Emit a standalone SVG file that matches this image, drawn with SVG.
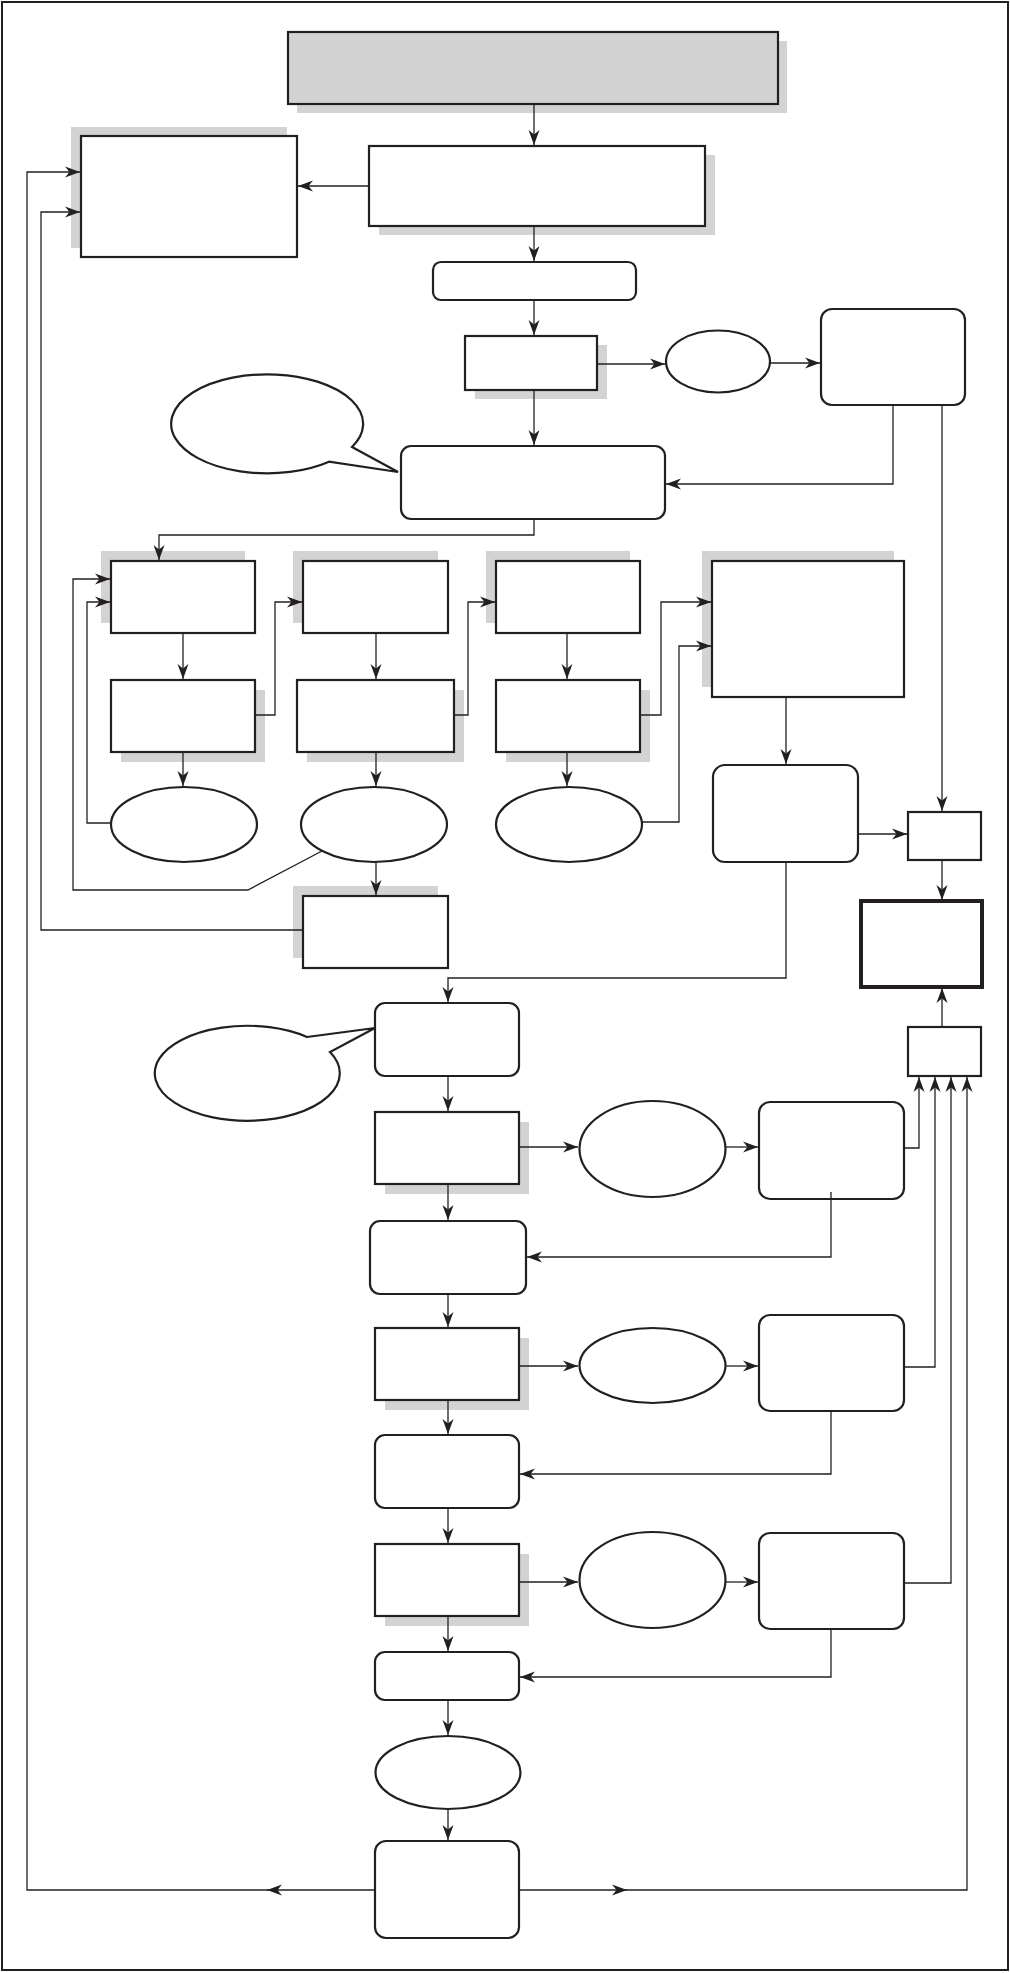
<svg xmlns="http://www.w3.org/2000/svg" width="1010" height="1973" viewBox="0 0 1010 1973">
<style>
.bg{fill:#ffffff}
.frame{fill:none;stroke:#231f20;stroke-width:2}
.box{fill:#ffffff;stroke:#231f20;stroke-width:2.2}
.gray{fill:#d3d3d3;stroke:#231f20;stroke-width:2.2}
.bold{fill:#ffffff;stroke:#231f20;stroke-width:4}
.sh{fill:#d3d3d3;stroke:none}
.a{fill:none;stroke:#231f20;stroke-width:1.3;marker-end:url(#ah)}
</style>
<defs>
<marker id="ah" markerUnits="userSpaceOnUse" markerWidth="16" markerHeight="12" refX="15" refY="6" orient="auto" viewBox="0 0 16 12">
<path d="M0,0.5 L15,6 L0,11.5 L4.5,6 Z" fill="#231f20"/>
</marker>
</defs>
<rect class="bg" x="0" y="0" width="1010" height="1973"/>
<rect class="frame" x="2" y="2" width="1006" height="1968"/>

<g id="n-top"><rect class="sh" x="297" y="41" width="490" height="72"/><rect class="gray" x="288" y="32" width="490" height="72"/></g>
<g id="n-box2"><rect class="sh" x="379" y="155" width="336" height="80"/><rect class="box" x="369" y="146" width="336" height="80"/></g>
<g id="n-boxL"><rect class="sh" x="71" y="127" width="216" height="121"/><rect class="box" x="81" y="136" width="216" height="121"/></g>
<g id="n-box3"><rect class="box" x="433" y="262" width="203" height="38" rx="8"/></g>
<g id="n-box4"><rect class="sh" x="475" y="345" width="132" height="54"/><rect class="box" x="465" y="336" width="132" height="54"/></g>
<g id="n-e0"><ellipse class="box" cx="718" cy="361.5" rx="52" ry="31"/></g>
<g id="n-box5"><rect class="box" x="821" y="309" width="144" height="96" rx="11"/></g>
<g id="n-bubble1"><path class="box" d="M352,447 L398,472 L329,461.7 A96,49.5 0 1 1 352,447 Z"/></g>
<g id="n-box6"><rect class="box" x="401" y="446" width="264" height="73" rx="10"/></g>

<g id="n-a1"><rect class="sh" x="101" y="551" width="144" height="72"/><rect class="box" x="111" y="561" width="144" height="72"/></g>
<g id="n-b1"><rect class="sh" x="293" y="551" width="145" height="72"/><rect class="box" x="303" y="561" width="145" height="72"/></g>
<g id="n-c1"><rect class="sh" x="486" y="551" width="144" height="72"/><rect class="box" x="496" y="561" width="144" height="72"/></g>
<g id="n-d1"><rect class="sh" x="702" y="551" width="192" height="136"/><rect class="box" x="712" y="561" width="192" height="136"/></g>
<g id="n-a2"><rect class="sh" x="121" y="690" width="144" height="72"/><rect class="box" x="111" y="680" width="144" height="72"/></g>
<g id="n-b2"><rect class="sh" x="307" y="690" width="157" height="72"/><rect class="box" x="297" y="680" width="157" height="72"/></g>
<g id="n-c2"><rect class="sh" x="506" y="690" width="144" height="72"/><rect class="box" x="496" y="680" width="144" height="72"/></g>
<g id="n-ea"><ellipse class="box" cx="184" cy="824.5" rx="73" ry="37.5"/></g>
<g id="n-eb"><ellipse class="box" cx="374" cy="824.5" rx="73" ry="37.5"/></g>
<g id="n-ec"><ellipse class="box" cx="569" cy="824.5" rx="73" ry="37.5"/></g>
<g id="n-r"><rect class="box" x="713" y="765" width="145" height="97" rx="12"/></g>
<g id="n-s1"><rect class="box" x="908" y="812" width="73" height="48"/></g>
<g id="n-t"><rect class="bold" x="861" y="901" width="121" height="86"/></g>
<g id="n-b3"><rect class="sh" x="293" y="886" width="145" height="72"/><rect class="box" x="303" y="896" width="145" height="72"/></g>

<g id="n-bubble2"><path class="box" d="M307,1037 L375,1028 L330,1052 A92.5,47.5 0 1 1 307,1037 Z"/></g>
<g id="n-f1"><rect class="box" x="375" y="1003" width="144" height="73" rx="10"/></g>
<g id="n-s2"><rect class="box" x="908" y="1027" width="73" height="49"/></g>
<g id="n-g1"><rect class="sh" x="385" y="1122" width="144" height="72"/><rect class="box" x="375" y="1112" width="144" height="72"/></g>
<g id="n-h1"><ellipse class="box" cx="652.5" cy="1149" rx="73" ry="48"/></g>
<g id="n-i1"><rect class="box" x="759" y="1102" width="145" height="97" rx="11"/></g>
<g id="n-j1"><rect class="box" x="370" y="1221" width="156" height="73" rx="10"/></g>
<g id="n-g2"><rect class="sh" x="385" y="1338" width="144" height="72"/><rect class="box" x="375" y="1328" width="144" height="72"/></g>
<g id="n-h2"><ellipse class="box" cx="652.5" cy="1365.5" rx="73" ry="37.5"/></g>
<g id="n-i2"><rect class="box" x="759" y="1315" width="145" height="96" rx="11"/></g>
<g id="n-j2"><rect class="box" x="375" y="1435" width="144" height="73" rx="10"/></g>
<g id="n-g3"><rect class="sh" x="385" y="1554" width="144" height="72"/><rect class="box" x="375" y="1544" width="144" height="72"/></g>
<g id="n-h3"><ellipse class="box" cx="652.5" cy="1580" rx="73" ry="48"/></g>
<g id="n-i3"><rect class="box" x="759" y="1533" width="145" height="96" rx="11"/></g>
<g id="n-j3"><rect class="box" x="375" y="1652" width="144" height="48" rx="10"/></g>
<g id="n-k"><ellipse class="box" cx="448" cy="1772.5" rx="72.5" ry="36.5"/></g>
<g id="n-l"><rect class="box" x="375" y="1841" width="144" height="97" rx="11"/></g>

<g id="connectors">
<path class="a" d="M534,104 V145"/>
<path class="a" d="M369,186 H298"/>
<path class="a" d="M534,226 V261"/>
<path class="a" d="M534,300 V335"/>
<path class="a" d="M597,364 H665"/>
<path class="a" d="M770,363 H820"/>
<path class="a" d="M893,405 V484 H666"/>
<path class="a" d="M942,405 V811"/>
<path class="a" d="M534,390 V445"/>
<path class="a" d="M534,519 V535 H159 V560"/>
<path class="a" d="M183,633 V679"/>
<path class="a" d="M183,752 V786"/>
<path class="a" d="M255,715 H275 V602 H302"/>
<path class="a" d="M376,633 V679"/>
<path class="a" d="M376,752 V786"/>
<path class="a" d="M454,715 H468 V602 H495"/>
<path class="a" d="M567,633 V679"/>
<path class="a" d="M567,752 V786"/>
<path class="a" d="M640,715 H661 V602 H711"/>
<path class="a" d="M642,822 H679 V646 H711"/>
<path class="a" d="M111,823 H87 V602 H110"/>
<path class="a" d="M322,851 L248,890 H73 V579 H110"/>
<path class="a" d="M376,862 V895"/>
<path class="a" d="M303,930 H41 V212 H80"/>
<path class="a" d="M786,697 V764"/>
<path class="a" d="M858,834 H907"/>
<path class="a" d="M942,860 V900"/>
<path class="a" d="M786,862 V978 H448 V1002"/>
<path class="a" d="M942,1027 V988"/>
<path class="a" d="M448,1076 V1111"/>
<path class="a" d="M519,1147 H578"/>
<path class="a" d="M726,1147 H758"/>
<path class="a" d="M904,1148 H919 V1077"/>
<path class="a" d="M831,1192 V1257 H527"/>
<path class="a" d="M448,1184 V1220"/>
<path class="a" d="M448,1294 V1327"/>
<path class="a" d="M519,1366 H578"/>
<path class="a" d="M726,1366 H758"/>
<path class="a" d="M904,1367 H935 V1077"/>
<path class="a" d="M831,1411 V1474 H520"/>
<path class="a" d="M448,1400 V1434"/>
<path class="a" d="M448,1508 V1543"/>
<path class="a" d="M519,1582 H578"/>
<path class="a" d="M726,1582 H758"/>
<path class="a" d="M904,1583 H951 V1077"/>
<path class="a" d="M831,1629 V1677 H520"/>
<path class="a" d="M448,1616 V1651"/>
<path class="a" d="M448,1700 V1735"/>
<path class="a" d="M448,1809 V1840"/>
<path class="a" d="M376,1890 H267"/>
<path class="a" d="M268,1890 H27 V172 H80"/>
<path class="a" d="M519,1890 H627"/>
<path class="a" d="M626,1890 H967 V1077"/>
</g>
</svg>
